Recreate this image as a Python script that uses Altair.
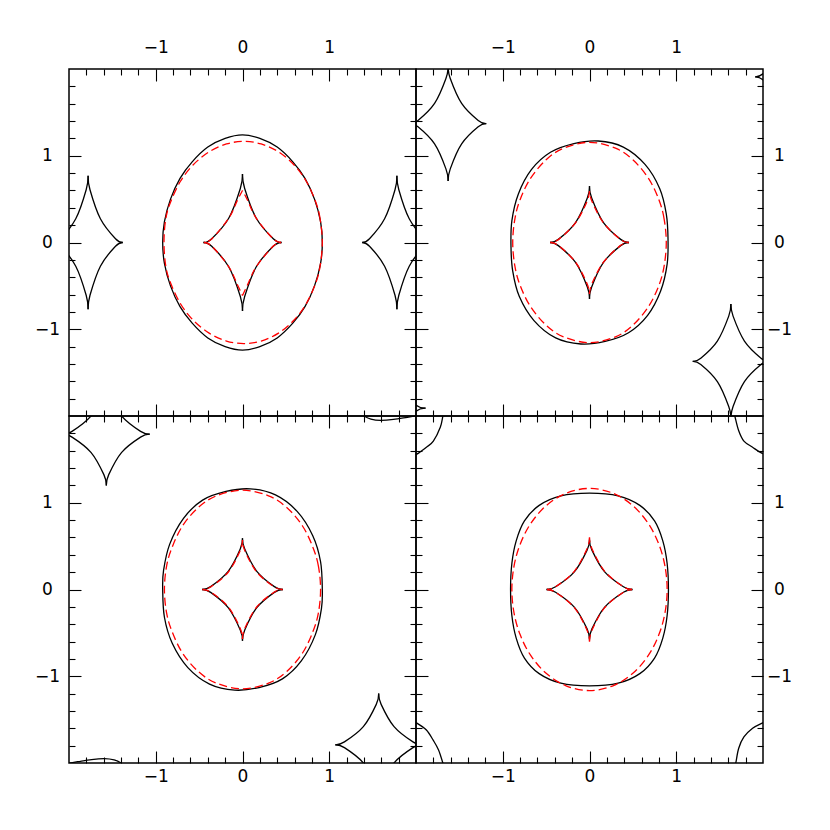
import altair as alt
import pandas as pd

# ---------------- axes ----------------
AXIS_RANGE = [-2, 2]
MAJOR_TICKS = [-1, 0, 1]
MINOR_TICKS = [-1.8, -1.6, -1.4, -1.2, -0.8, -0.6, -0.4, -0.2,
               0.2, 0.4, 0.6, 0.8, 1.2, 1.4, 1.6, 1.8]

# ---------------- panel A (top left) ----------------
A_OVAL_BLACK_X = [0.92, 0.90, 0.83, 0.72, 0.58, 0.40, 0.20, 0.00, -0.20, -0.40, -0.58, -0.72, -0.83, -0.90,
                  -0.92, -0.90, -0.83, -0.72, -0.58, -0.40, -0.20, 0.00, 0.20, 0.40, 0.58, 0.72, 0.83, 0.90]
A_OVAL_BLACK_Y = [0.00, 0.24, 0.50, 0.74, 0.93, 1.10, 1.20, 1.24, 1.20, 1.10, 0.93, 0.74, 0.50, 0.24,
                  0.00, -0.24, -0.50, -0.74, -0.93, -1.10, -1.20, -1.24, -1.20, -1.10, -0.93, -0.74, -0.50, -0.24]
A_OVAL_RED_X = [0.92, 0.895, 0.845, 0.735, 0.595, 0.415, 0.215, 0.015, -0.185, -0.385, -0.57, -0.715, -0.83, -0.885,
                -0.905, -0.885, -0.83, -0.715, -0.57, -0.385, -0.185, 0.015, 0.215, 0.415, 0.595, 0.735, 0.845, 0.895]
A_OVAL_RED_Y = [0.0, 0.27, 0.465, 0.706, 0.894, 1.045, 1.136, 1.165, 1.136, 1.045, 0.894, 0.706, 0.465, 0.27,
                0.0, -0.27, -0.465, -0.706, -0.894, -1.045, -1.136, -1.165, -1.136, -1.045, -0.894, -0.706, -0.465, -0.27]
A_CAUSTIC_BLACK_X = [0.45, 0.355, 0.159, 0.025, 0.0, -0.025, -0.159, -0.355, -0.45, -0.355, -0.159, -0.025, 0.0, 0.025, 0.159, 0.355, 0.45]
A_CAUSTIC_BLACK_Y = [0.0, 0.044, 0.28, 0.623, 0.79, 0.623, 0.28, 0.044, 0.0, -0.044, -0.28, -0.623, -0.79, -0.623, -0.28, -0.044, 0.0]
A_CAUSTIC_RED_X = [0.445, 0.352, 0.158, 0.062, 0.0, -0.062, -0.158, -0.352, -0.445, -0.352, -0.158, -0.062, 0.0, 0.062, 0.158, 0.352, 0.445]
A_CAUSTIC_RED_Y = [0.0, 0.044, 0.28, 0.48, 0.60, 0.48, 0.28, 0.044, 0.0, -0.044, -0.28, -0.48, -0.61, -0.48, -0.28, -0.044, 0.0]
A_LEFT_X = [-1.38, -1.464, -1.638, -1.758, -1.78, -1.802, -1.922, -2.096, -2.18, -2.096, -1.922, -1.802, -1.78, -1.758, -1.638, -1.464, -1.38]
A_LEFT_Y = [0.0, 0.043, 0.273, 0.608, 0.77, 0.608, 0.273, 0.043, 0.0, -0.043, -0.273, -0.608, -0.77, -0.608, -0.273, -0.043, 0.0]
A_RIGHT_X = [2.18, 2.096, 1.922, 1.802, 1.78, 1.758, 1.638, 1.464, 1.38, 1.464, 1.638, 1.758, 1.78, 1.802, 1.922, 2.096, 2.18]
A_RIGHT_Y = [0.0, 0.043, 0.273, 0.608, 0.77, 0.608, 0.273, 0.043, 0.0, -0.043, -0.273, -0.608, -0.77, -0.608, -0.273, -0.043, 0.0]

# ---------------- panel B (top right) ----------------
B_OVAL_BLACK_X = [0.905, 0.885, 0.81, 0.64, 0.39, 0.10, -0.18, -0.45, -0.67, -0.82, -0.895,
                  -0.905, -0.885, -0.81, -0.64, -0.39, -0.10, 0.18, 0.45, 0.67, 0.82, 0.895]
B_OVAL_BLACK_Y = [0.05, 0.33, 0.62, 0.90, 1.10, 1.17, 1.14, 1.04, 0.84, 0.56, 0.25,
                  -0.05, -0.33, -0.62, -0.90, -1.10, -1.17, -1.14, -1.04, -0.84, -0.56, -0.25]
B_OVAL_RED_X = [0.885, 0.86, 0.80, 0.68, 0.50, 0.30, 0.0, -0.30, -0.50, -0.68, -0.80, -0.86,
                -0.885, -0.86, -0.80, -0.68, -0.50, -0.30, 0.0, 0.30, 0.50, 0.68, 0.80, 0.86]
B_OVAL_RED_Y = [0.0, 0.273, 0.494, 0.739, 0.953, 1.087, 1.155, 1.087, 0.953, 0.739, 0.494, 0.273,
                0.0, -0.273, -0.494, -0.739, -0.953, -1.087, -1.155, -1.087, -0.953, -0.739, -0.494, -0.273]
B_CAUSTIC_BLACK_X = [0.455, 0.359, 0.161, 0.025, 0.0, -0.025, -0.161, -0.359, -0.455, -0.359, -0.161, -0.025, 0.0, 0.025, 0.161, 0.359, 0.455]
B_CAUSTIC_BLACK_Y = [0.0, 0.036, 0.23, 0.513, 0.65, 0.513, 0.23, 0.036, 0.0, -0.036, -0.23, -0.513, -0.65, -0.513, -0.23, -0.036, 0.0]
B_CAUSTIC_RED_X = [0.45, 0.355, 0.159, 0.03, 0.0, -0.03, -0.159, -0.355, -0.45, -0.355, -0.159, -0.03, 0.0, 0.03, 0.159, 0.355, 0.45]
B_CAUSTIC_RED_Y = [0.0, 0.036, 0.23, 0.47, 0.59, 0.47, 0.23, 0.036, 0.0, -0.036, -0.23, -0.47, -0.59, -0.47, -0.23, -0.036, 0.0]
B_UPLEFT_X = [-1.19, -1.283, -1.474, -1.605, -1.63, -1.655, -1.786, -1.977, -2.07, -1.977, -1.786, -1.655, -1.63, -1.605, -1.474, -1.283, -1.19]
B_UPLEFT_Y = [1.37, 1.407, 1.604, 1.891, 2.03, 1.891, 1.604, 1.407, 1.37, 1.333, 1.136, 0.849, 0.71, 0.849, 1.136, 1.333, 1.37]
B_LOWRIGHT_X = [1.19, 1.283, 1.474, 1.605, 1.63, 1.655, 1.786, 1.977, 2.07, 1.977, 1.786, 1.655, 1.63, 1.605, 1.474, 1.283, 1.19]
B_LOWRIGHT_Y = [-1.37, -1.407, -1.604, -1.891, -2.03, -1.891, -1.604, -1.407, -1.37, -1.333, -1.136, -0.849, -0.71, -0.849, -1.136, -1.333, -1.37]
B_CORNER_TR_X = [2.35, 2.325, 2.194, 2.003, 1.91, 2.003, 2.194, 2.325, 2.35]
B_CORNER_TR_Y = [2.57, 2.431, 2.144, 1.947, 1.91, 1.873, 1.676, 1.389, 1.25]
B_CORNER_BL_X = [-2.35, -2.325, -2.194, -2.003, -1.89, -2.003, -2.194, -2.325, -2.35]
B_CORNER_BL_Y = [-1.25, -1.389, -1.676, -1.873, -1.91, -1.947, -2.144, -2.431, -2.57]

# ---------------- panel C (bottom left) ----------------
C_OVAL_BLACK_X = [0.92, 0.90, 0.81, 0.63, 0.38, 0.09, -0.19, -0.46, -0.68, -0.84, -0.91,
                  -0.92, -0.90, -0.81, -0.63, -0.38, -0.09, 0.19, 0.46, 0.68, 0.84, 0.91]
C_OVAL_BLACK_Y = [0.00, 0.32, 0.62, 0.90, 1.09, 1.16, 1.13, 1.03, 0.82, 0.52, 0.22,
                  0.00, -0.32, -0.62, -0.90, -1.09, -1.16, -1.13, -1.03, -0.82, -0.52, -0.22]
C_OVAL_RED_X = [0.90, 0.875, 0.81, 0.69, 0.51, 0.30, 0.0, -0.30, -0.51, -0.69, -0.81, -0.875,
                -0.90, -0.875, -0.81, -0.69, -0.51, -0.30, 0.0, 0.30, 0.51, 0.69, 0.81, 0.875]
C_OVAL_RED_Y = [0.0, 0.27, 0.49, 0.735, 0.945, 1.08, 1.145, 1.08, 0.945, 0.735, 0.49, 0.27,
                0.0, -0.27, -0.49, -0.735, -0.945, -1.08, -1.145, -1.08, -0.945, -0.735, -0.49, -0.27]
C_CAUSTIC_BLACK_X = [0.465, 0.367, 0.165, 0.026, 0.0, -0.026, -0.165, -0.367, -0.465, -0.367, -0.165, -0.026, 0.0, 0.026, 0.165, 0.367, 0.465]
C_CAUSTIC_BLACK_Y = [0.0, 0.033, 0.209, 0.466, 0.59, 0.466, 0.209, 0.033, 0.0, -0.033, -0.209, -0.466, -0.59, -0.466, -0.209, -0.033, 0.0]
C_CAUSTIC_RED_X = [0.46, 0.363, 0.163, 0.026, 0.0, -0.026, -0.163, -0.363, -0.46, -0.363, -0.163, -0.026, 0.0, 0.026, 0.163, 0.363, 0.46]
C_CAUSTIC_RED_Y = [0.0, 0.032, 0.202, 0.45, 0.57, 0.45, 0.202, 0.032, 0.0, -0.032, -0.202, -0.45, -0.57, -0.45, -0.202, -0.032, 0.0]
C_UPLEFT_X = [-1.07, -1.175, -1.393, -1.542, -1.57, -1.598, -1.747, -1.965, -2.07, -1.965, -1.747, -1.598, -1.57, -1.542, -1.393, -1.175, -1.07]
C_UPLEFT_Y = [1.79, 1.823, 1.999, 2.256, 2.38, 2.256, 1.999, 1.823, 1.79, 1.757, 1.581, 1.324, 1.20, 1.324, 1.581, 1.757, 1.79]
C_LOWRIGHT_X = [1.07, 1.175, 1.393, 1.542, 1.57, 1.598, 1.747, 1.965, 2.07, 1.965, 1.747, 1.598, 1.57, 1.542, 1.393, 1.175, 1.07]
C_LOWRIGHT_Y = [-1.79, -1.823, -1.999, -2.256, -2.38, -2.256, -1.999, -1.823, -1.79, -1.757, -1.581, -1.324, -1.20, -1.324, -1.581, -1.757, -1.79]
C_EDGE_TOP_X = [1.33, 1.40, 1.48, 1.59, 1.74, 1.90, 2.05]
C_EDGE_TOP_Y = [2.06, 2.00, 1.965, 1.95, 1.96, 1.985, 2.01]
C_EDGE_BOTTOM_X = [-1.33, -1.40, -1.48, -1.59, -1.74, -1.90, -2.05]
C_EDGE_BOTTOM_Y = [-2.06, -2.00, -1.965, -1.95, -1.96, -1.985, -2.01]

# ---------------- panel D (bottom right) ----------------
D_OVAL_BLACK_X = [0.91, 0.895, 0.845, 0.75, 0.58, 0.33, 0.0, -0.33, -0.58, -0.75, -0.845, -0.895,
                  -0.91, -0.895, -0.845, -0.75, -0.58, -0.33, 0.0, 0.33, 0.58, 0.75, 0.845, 0.895]
D_OVAL_BLACK_Y = [0.0, 0.30, 0.56, 0.79, 0.97, 1.08, 1.11, 1.08, 0.97, 0.79, 0.56, 0.30,
                  0.0, -0.30, -0.56, -0.79, -0.97, -1.08, -1.11, -1.08, -0.97, -0.79, -0.56, -0.30]
D_OVAL_RED_X = [0.895, 0.87, 0.80, 0.68, 0.50, 0.27, 0.0, -0.27, -0.50, -0.68, -0.80, -0.87,
                -0.895, -0.87, -0.80, -0.68, -0.50, -0.27, 0.0, 0.27, 0.50, 0.68, 0.80, 0.87]
D_OVAL_RED_Y = [0.0, 0.27, 0.52, 0.757, 0.966, 1.11, 1.165, 1.11, 0.966, 0.757, 0.52, 0.27,
                0.0, -0.27, -0.52, -0.757, -0.966, -1.11, -1.165, -1.11, -0.966, -0.757, -0.52, -0.27]
D_CAUSTIC_BLACK_X = [0.495, 0.391, 0.175, 0.028, 0.0, -0.028, -0.175, -0.391, -0.495, -0.391, -0.175, -0.028, 0.0, 0.028, 0.175, 0.391, 0.495]
D_CAUSTIC_BLACK_Y = [0.0, 0.032, 0.204, 0.454, 0.575, 0.454, 0.204, 0.032, 0.0, -0.032, -0.204, -0.454, -0.575, -0.454, -0.204, -0.032, 0.0]
D_CAUSTIC_RED_X = [0.49, 0.387, 0.173, 0.027, 0.0, -0.027, -0.173, -0.387, -0.49, -0.387, -0.173, -0.027, 0.0, 0.027, 0.173, 0.387, 0.49]
D_CAUSTIC_RED_Y = [0.0, 0.034, 0.212, 0.473, 0.60, 0.473, 0.212, 0.034, 0.0, -0.034, -0.212, -0.473, -0.60, -0.473, -0.212, -0.034, 0.0]
D_CORNER_TL_X = [-1.68, -1.69, -1.72, -1.80, -1.88, -1.99, -2.05]
D_CORNER_TL_Y = [2.03, 2.00, 1.87, 1.71, 1.64, 1.56, 1.54]
D_CORNER_TR_X = [1.67, 1.68, 1.72, 1.78, 1.88, 1.97, 2.05]
D_CORNER_TR_Y = [2.03, 1.98, 1.83, 1.71, 1.64, 1.58, 1.55]
D_CORNER_BL_X = [-2.05, -1.99, -1.88, -1.80, -1.74, -1.69, -1.68]
D_CORNER_BL_Y = [-1.52, -1.54, -1.62, -1.74, -1.85, -2.00, -2.03]
D_CORNER_BR_X = [2.05, 1.99, 1.88, 1.78, 1.72, 1.69, 1.68]
D_CORNER_BR_Y = [-1.52, -1.54, -1.60, -1.70, -1.83, -1.98, -2.03]

CURVES = [
    ("A", "oval", "black", "a_ob", A_OVAL_BLACK_X, A_OVAL_BLACK_Y),
    ("A", "oval", "red", "a_or", A_OVAL_RED_X, A_OVAL_RED_Y),
    ("A", "cusp", "black", "a_cb", A_CAUSTIC_BLACK_X, A_CAUSTIC_BLACK_Y),
    ("A", "cusp", "red", "a_cr", A_CAUSTIC_RED_X, A_CAUSTIC_RED_Y),
    ("A", "cusp", "black", "a_l", A_LEFT_X, A_LEFT_Y),
    ("A", "cusp", "black", "a_r", A_RIGHT_X, A_RIGHT_Y),
    ("B", "oval", "black", "b_ob", B_OVAL_BLACK_X, B_OVAL_BLACK_Y),
    ("B", "oval", "red", "b_or", B_OVAL_RED_X, B_OVAL_RED_Y),
    ("B", "cusp", "black", "b_cb", B_CAUSTIC_BLACK_X, B_CAUSTIC_BLACK_Y),
    ("B", "cusp", "red", "b_cr", B_CAUSTIC_RED_X, B_CAUSTIC_RED_Y),
    ("B", "cusp", "black", "b_ul", B_UPLEFT_X, B_UPLEFT_Y),
    ("B", "cusp", "black", "b_lr", B_LOWRIGHT_X, B_LOWRIGHT_Y),
    ("B", "cusp", "black", "b_tr", B_CORNER_TR_X, B_CORNER_TR_Y),
    ("B", "cusp", "black", "b_bl", B_CORNER_BL_X, B_CORNER_BL_Y),
    ("C", "oval", "black", "c_ob", C_OVAL_BLACK_X, C_OVAL_BLACK_Y),
    ("C", "oval", "red", "c_or", C_OVAL_RED_X, C_OVAL_RED_Y),
    ("C", "cusp", "black", "c_cb", C_CAUSTIC_BLACK_X, C_CAUSTIC_BLACK_Y),
    ("C", "cusp", "red", "c_cr", C_CAUSTIC_RED_X, C_CAUSTIC_RED_Y),
    ("C", "cusp", "black", "c_ul", C_UPLEFT_X, C_UPLEFT_Y),
    ("C", "cusp", "black", "c_lr", C_LOWRIGHT_X, C_LOWRIGHT_Y),
    ("C", "open", "black", "c_et", C_EDGE_TOP_X, C_EDGE_TOP_Y),
    ("C", "open", "black", "c_eb", C_EDGE_BOTTOM_X, C_EDGE_BOTTOM_Y),
    ("D", "oval", "black", "d_ob", D_OVAL_BLACK_X, D_OVAL_BLACK_Y),
    ("D", "oval", "red", "d_or", D_OVAL_RED_X, D_OVAL_RED_Y),
    ("D", "cusp", "black", "d_cb", D_CAUSTIC_BLACK_X, D_CAUSTIC_BLACK_Y),
    ("D", "cusp", "red", "d_cr", D_CAUSTIC_RED_X, D_CAUSTIC_RED_Y),
    ("D", "open", "black", "d_tl", D_CORNER_TL_X, D_CORNER_TL_Y),
    ("D", "open", "black", "d_tr", D_CORNER_TR_X, D_CORNER_TR_Y),
    ("D", "open", "black", "d_bl", D_CORNER_BL_X, D_CORNER_BL_Y),
    ("D", "open", "black", "d_br", D_CORNER_BR_X, D_CORNER_BR_Y),
]

rows = []
for panel_id, kind, color, name, xs, ys in CURVES:
    group = "oval" if kind == "oval" else "arc"
    if kind == "cusp":
        # split the path at every cusp (every 4th point) so cusps stay sharp
        for s in range(0, len(xs) - 1, 4):
            for k in range(s, s + 5):
                rows.append(dict(panel=panel_id, group=group, color=color,
                                 seg=f"{name}_{s}", ord=k, x=xs[k], y=ys[k]))
    else:
        for k in range(len(xs)):
            rows.append(dict(panel=panel_id, group=group, color=color,
                             seg=name, ord=k, x=xs[k], y=ys[k]))
df = pd.DataFrame(rows)


def tick_axis(orient, values, size):
    return alt.Axis(orient=orient, values=values, tickSize=size, offset=-size,
                    labels=False, domain=False, grid=False, title=None,
                    tickColor="black", tickWidth=1.1)


def label_axis(orient):
    pad = {"top": 13, "bottom": 5, "left": 22, "right": 16}[orient]
    kw = dict(orient=orient, values=MAJOR_TICKS, ticks=False, domain=False, grid=False,
              title=None, labelFont="DejaVu Sans", labelFontSize=17, labelColor="black",
              labelPadding=pad)
    if orient in ("left", "right"):
        kw["labelAlign"] = "center"
    return alt.Axis(**kw)


def panel(pid, x_orient, y_orient):
    sc = alt.Scale(domain=AXIS_RANGE, nice=False, zero=False)
    d = df[df.panel == pid]

    def sub(group, color):
        return d[(d.group == group) & (d.color == color)]

    def enc(ch, xa, ya):
        return ch.encode(x=alt.X("x:Q", scale=sc, axis=xa),
                         y=alt.Y("y:Q", scale=sc, axis=ya),
                         detail="seg:N", order="ord:Q")

    black_ovals = enc(alt.Chart(sub("oval", "black")).mark_line(
        interpolate="cardinal-closed", color="black", strokeWidth=1.3, clip=True),
        tick_axis("top", MAJOR_TICKS, 12), tick_axis("left", MAJOR_TICKS, 12))
    black_arcs = enc(alt.Chart(sub("arc", "black")).mark_line(
        interpolate="cardinal", color="black", strokeWidth=1.3, clip=True),
        tick_axis("bottom", MAJOR_TICKS, 12), tick_axis("right", MAJOR_TICKS, 12))
    red_ovals = enc(alt.Chart(sub("oval", "red")).mark_line(
        interpolate="cardinal-closed", color="#ff0000", strokeWidth=1.3,
        strokeDash=[8, 4], clip=True),
        tick_axis("top", MINOR_TICKS, 6), tick_axis("left", MINOR_TICKS, 6))
    red_arcs = enc(alt.Chart(sub("arc", "red")).mark_line(
        interpolate="cardinal", color="#ff0000", strokeWidth=1.3,
        strokeDash=[7, 4], clip=True),
        tick_axis("bottom", MINOR_TICKS, 6), tick_axis("right", MINOR_TICKS, 6))
    labels = alt.Chart(sub("oval", "black")).mark_point(opacity=0).encode(
        x=alt.X("x:Q", scale=sc, axis=label_axis(x_orient)),
        y=alt.Y("y:Q", scale=sc, axis=label_axis(y_orient)))

    return alt.layer(black_ovals, black_arcs, red_ovals, red_arcs, labels).resolve_axis(
        x="independent", y="independent").properties(width=347, height=347)


chart = alt.concat(
    panel("A", "top", "left"), panel("B", "top", "right"),
    panel("C", "bottom", "left"), panel("D", "bottom", "right"),
    columns=2, spacing=0, bounds="flush",
).configure_view(stroke="black", strokeWidth=1.5).properties(
    padding={"left": 25, "top": 29, "right": 5, "bottom": 5}, background="white")

chart.save("out.html", embed_options={"renderer": "svg", "actions": False})
